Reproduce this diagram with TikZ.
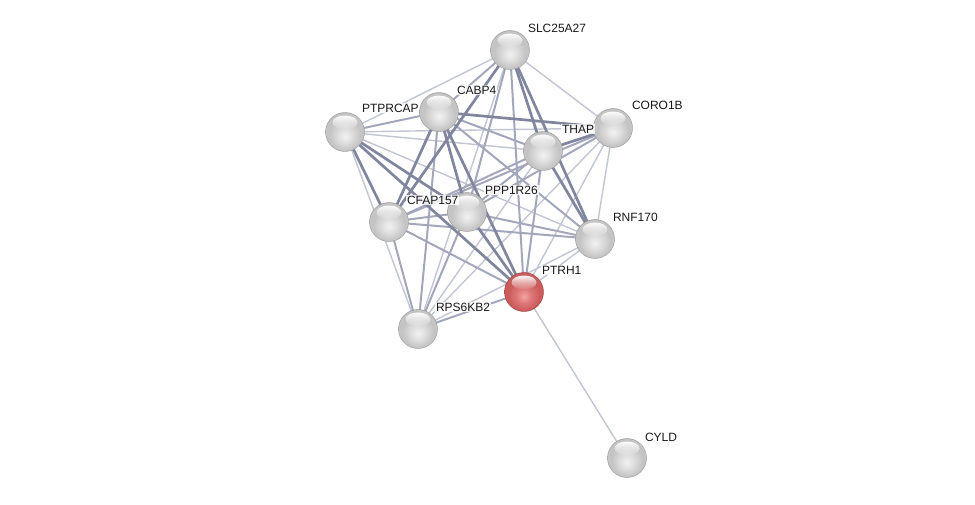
\documentclass[tikz,border=0pt]{standalone}
\usepackage{fontspec}
\setmainfont{Liberation Sans}
\usetikzlibrary{fadings}
\definecolor{eThin}{HTML}{C2C5D3}
\definecolor{eMed}{HTML}{A3A7BB}
\definecolor{eThick}{HTML}{81869F}
\definecolor{gA}{HTML}{F2F2F2}
\definecolor{gB}{HTML}{DCDCDC}
\definecolor{gC}{HTML}{C4C4C4}
\definecolor{gD}{HTML}{8E8E8E}
\definecolor{rA}{HTML}{F2A5A5}
\definecolor{rB}{HTML}{DE7676}
\definecolor{rC}{HTML}{CB5C5C}
\definecolor{rD}{HTML}{9E3E3E}
\pgfdeclareradialshading{sball}{\pgfpoint{0bp}{-6bp}}{color(0bp)=(gA); color(10bp)=(gB); color(20bp)=(gC); color(27bp)=(gC); color(31bp)=(gD); color(50bp)=(gD)}
\pgfdeclareradialshading{rball}{\pgfpoint{0bp}{-6bp}}{color(0bp)=(rA); color(10bp)=(rB); color(20bp)=(rC); color(27bp)=(rC); color(31bp)=(rD); color(50bp)=(rD)}
\tikzfading[name=hlfade, top color=transparent!5, bottom color=transparent!100]
\tikzset{
  ball/.style={circle, minimum size=39pt, inner sep=0pt, shading=sball, draw=black!40, line width=0.4pt},
  redball/.style={ball, shading=rball, draw=rD},
  hl/.style={white, path fading=hlfade},
  lab/.style={anchor=west, inner sep=0.8pt, fill=white, fill opacity=0.8, text opacity=1, text=black!90, font=\fontsize{12}{14}\selectfont},
  ethin/.style={draw=eThin, line width=1.4pt},
  emed/.style={draw=eMed, line width=2pt},
  ethick/.style={draw=eThick, line width=2.7pt}
}
\begin{document}
\begin{tikzpicture}[x=1pt,y=-1pt]
\fill[white] (0,0) rectangle (975,504);
\useasboundingbox (0,0) rectangle (975,504);
% node positions
\coordinate (slc) at (510,50);
\coordinate (cabp) at (439,112);
\coordinate (ptp) at (345,132);
\coordinate (coro) at (613,128);
\coordinate (thap) at (543,151);
\coordinate (ppp) at (467,212);
\coordinate (cfap) at (389,222);
\coordinate (rnf) at (595,239);
\coordinate (ptrh) at (524,292);
\coordinate (rps) at (418,329);
\coordinate (cyld) at (627,458);
% edges
\foreach \a/\b in {slc/ptp, slc/coro, slc/rps, ptp/thap, ptp/coro, ptp/rnf, ptp/rps, thap/rps, coro/rnf, coro/ptrh, coro/rps, rnf/ptrh, rnf/rps, ptrh/cyld}
  \draw[ethin] (\a) -- (\b);
\foreach \a/\b in {slc/cabp, slc/ppp, slc/ptrh, cabp/ptp, cabp/thap, cabp/rnf, cabp/rps, thap/cfap, thap/ppp, thap/ptrh, coro/cfap, coro/ppp, cfap/ppp, cfap/rnf, cfap/ptrh, cfap/rps, ppp/rnf, ppp/rps, ptrh/rps}
  \draw[emed] (\a) -- (\b);
\foreach \a/\b in {slc/cfap, slc/thap, slc/rnf, cabp/coro, cabp/cfap, cabp/ppp, cabp/ptrh, ptp/cfap, ptp/ppp, ptp/ptrh, thap/coro, thap/rnf, ppp/ptrh}
  \draw[ethick] (\a) -- (\b);
% balls
\foreach \n in {slc, cabp, ptp, coro, thap, ppp, cfap, rnf, rps, cyld}{
  \node[ball] (n\n) at (\n) {};
  \fill[hl] ([yshift=9.5pt]\n) ellipse (12.5pt and 7pt);
}
\node[redball] (nptrh) at (ptrh) {};
\fill[hl] ([yshift=9.5pt]ptrh) ellipse (12.5pt and 7pt);
% labels
\node[lab] (lslc) at (527,28) {SLC25A27};
\node[lab] (lcabp) at (456,90) {CABP4};
\node[lab] (lptp) at (361,108) {PTPRCAP};
\node[lab] (lcoro) at (631,105) {CORO1B};
\node[lab] (lthap) at (561,129) {THAP};
\node[lab] (lppp) at (484,190) {PPP1R26};
\node[lab] (lcfap) at (406,200) {CFAP157};
\node[lab] (lrnf) at (612,217) {RNF170};
\node[lab] (lptrh) at (541,270) {PTRH1};
\node[lab] (lrps) at (435,307) {RPS6KB2};
\node[lab] (lcyld) at (644,437) {CYLD};
\end{tikzpicture}
\end{document}
